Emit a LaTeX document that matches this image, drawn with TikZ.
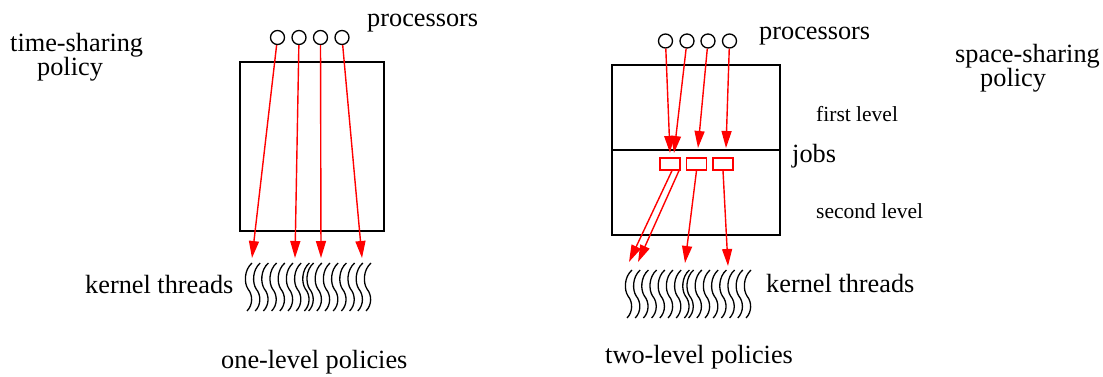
\documentclass[tikz,border=0pt]{standalone}
\usepackage{fontspec}
\setmainfont{Liberation Serif}
\newfontfamily\timesf{Liberation Serif}
\usetikzlibrary{arrows.meta}
\begin{document}
\begin{tikzpicture}[x=1pt,y=-1pt,
  proc/.style={circle,draw,line width=1.3pt,minimum size=14pt,inner sep=0pt},
  job/.style={rectangle,draw=red,line width=1.3pt,minimum width=20pt,minimum height=12pt,inner sep=0pt},
  flow/.style={red,line width=1.4pt,-{Triangle[length=17pt,width=10pt]}},
  framebox/.style={rectangle,draw,line width=1.4pt,inner sep=0pt},
  lbl/.style={font=\timesf\fontsize{26.3}{28}\selectfont,inner sep=0pt,anchor=base west},
  small/.style={font=\timesf\fontsize{21.5}{24}\selectfont,inner sep=0pt,anchor=base west},
  thread/.style={line width=1.3pt}]
\useasboundingbox (0,0) rectangle (1103,377);

% ---------------- left: one-level ----------------
\node[lbl,align=left,font=\timesf\fontsize{26.3}{23}\selectfont] (ts) at (10,76) {time-sharing\\\hspace*{27pt}policy};
\node[lbl] (procL) at (367,27) {processors};
\node[framebox,minimum width=144pt,minimum height=169pt] (boxL) at (312,146.5) {};
\node[proc] (c1) at (277.5,37.5) {};
\node[proc] (c2) at (299,37.5) {};
\node[proc] (c3) at (320.5,37.5) {};
\node[proc] (c4) at (342,37.5) {};
\coordinate (t1) at (252,258);
\coordinate (t2) at (295,258);
\coordinate (t3) at (321,258);
\coordinate (t4) at (362,258);
\draw[flow] (c1) -- (t1);
\draw[flow] (c2) -- (t2);
\draw[flow] (c3) -- (t3);
\draw[flow] (c4) -- (t4);
\foreach \g/\o in {0/0,1/61.6}{
  \foreach \i in {0,...,7}{
    \pgfmathsetmacro{\xx}{245+\o+8.2*\i}
    \draw[thread] (\xx+7,263) .. controls (\xx-1,270) and (\xx-1,283) .. (\xx+3,289)
      .. controls (\xx+8,295) and (\xx+8,305) .. (\xx+2,311);
  }
}
\node[lbl] (ktL) at (85,293) {kernel threads};
\node[lbl] (oneL) at (221,368) {one-level policies};

% ---------------- right: two-level ----------------
\node[lbl,align=left,font=\timesf\fontsize{26.3}{21}\selectfont] (ss) at (955,87) {space-sharing\\\hspace*{25pt}policy};
\node[lbl] (procR) at (759,40) {processors};
\node[framebox,minimum width=168pt,minimum height=170pt] (boxR) at (696,150) {};
\draw[line width=1.4pt] (boxR.west |- 0,150) coordinate (dl) -- (boxR.east |- 0,150) coordinate (dr);
\node[small] (fl) at (816,122) {first level};
\node[lbl] (jobs) at (792,163) {jobs};
\node[small] (sl) at (816,218) {second level};
\node[proc] (r1) at (665.5,41) {};
\node[proc] (r2) at (687,41) {};
\node[proc] (r3) at (708,41) {};
\node[proc] (r4) at (729.5,41) {};
\node[job] (j1) at (670,164) {};
\node[job] (j2) at (696.5,164) {};
\node[job] (j3) at (723,164) {};
\coordinate (u1) at (670,153);
\coordinate (u2) at (674,153);
\coordinate (u3) at (698,148);
\coordinate (u4) at (726,148);
\draw[flow] (r1) -- (u1);
\draw[flow] (r2) -- (u2);
\draw[flow] (r3) -- (u3);
\draw[flow] (r4) -- (u4);
\coordinate (v1) at (629,262);
\coordinate (v2) at (638,262);
\coordinate (v3) at (685,263);
\coordinate (v4) at (728,266);
\draw[flow] ([xshift=2pt]j1.south) -- (v1);
\draw[flow] ([xshift=9pt]j1.south) -- (v2);
\draw[flow] (j2.south) -- (v3);
\draw[flow] (j3.south) -- (v4);
\foreach \g/\o in {0/0,1/61.6}{
  \foreach \i in {0,...,7}{
    \pgfmathsetmacro{\xx}{625+\o+8.2*\i}
    \draw[thread] (\xx+7,270) .. controls (\xx-1,277) and (\xx-1,290) .. (\xx+3,296)
      .. controls (\xx+8,302) and (\xx+8,312) .. (\xx+2,318);
  }
}
\node[lbl] (ktR) at (766,292) {kernel threads};
\node[lbl] (twoL) at (605,363) {two-level policies};
\end{tikzpicture}
\end{document}
